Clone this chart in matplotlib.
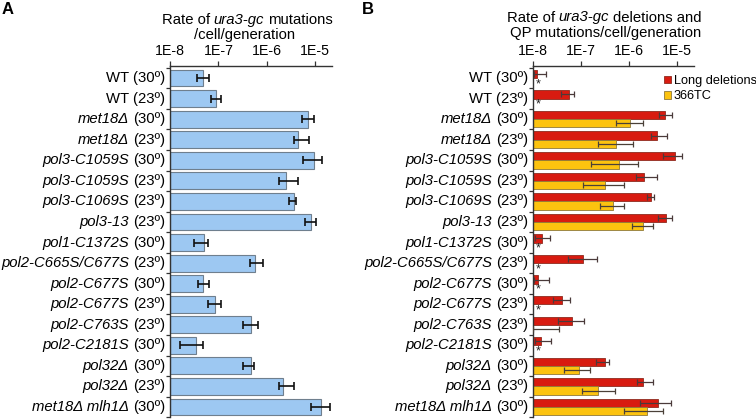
import numpy as np
import matplotlib
matplotlib.use("Agg")
import matplotlib.pyplot as plt
import matplotlib.ticker as mticker
from matplotlib.patches import Patch

plt.rcParams["font.family"] = ["Liberation Sans", "DejaVu Sans"]

# strain / temperature rows (top to bottom)
STRAINS = ["WT", "WT", "met18Δ", "met18Δ", "pol3-C1059S", "pol3-C1059S",
           "pol3-C1069S", "pol3-13", "pol1-C1372S", "pol2-C665S/C677S",
           "pol2-C677S", "pol2-C677S", "pol2-C763S", "pol2-C2181S",
           "pol32Δ", "pol32Δ", "met18Δ mlh1Δ"]
TEMPS = [30, 23, 30, 23, 30, 23, 23, 23, 30, 23, 30, 23, 23, 30, 30, 23, 30]

# panel A: total ura3-gc mutation rate
RATE_A = [4.9e-8, 9.0e-8, 7.0e-6, 4.5e-6, 9.3e-6, 2.5e-6, 3.6e-6, 8.3e-6, 5.1e-8,
          5.6e-7, 4.75e-8, 8.5e-8, 4.7e-7, 3.4e-8, 4.7e-7, 2.2e-6, 1.34e-5]
LOW_A = [3.6e-8, 7.1e-8, 5.3e-6, 3.6e-6, 5.6e-6, 1.8e-6, 2.95e-6, 6.2e-6, 3.2e-8,
         4.4e-7, 3.85e-8, 6.0e-8, 3.3e-7, 1.6e-8, 3.3e-7, 1.75e-6, 8.2e-6]
HIGH_A = [6.5e-8, 1.12e-7, 9.6e-6, 7.3e-6, 1.38e-5, 4.5e-6, 4.06e-6, 1.05e-5, 6.0e-8,
          8.5e-7, 6.5e-8, 1.14e-7, 6.5e-7, 4.75e-8, 5.56e-7, 3.7e-6, 2.06e-5]

# panel B: long deletions
RATE_DEL = [1.23e-8, 5.6e-8, 5.7e-6, 3.9e-6, 9.0e-6, 2.08e-6, 2.87e-6, 5.9e-6, 1.51e-8,
            1.10e-7, 1.29e-8, 4.1e-8, 6.6e-8, 1.47e-8, 3.2e-7, 1.92e-6, 4.1e-6]
LOW_DEL = [1.05e-8, 3.9e-8, 4.3e-6, 2.87e-6, 5.2e-6, 1.40e-6, 2.37e-6, 4.1e-6, 1.1e-8,
           5.4e-8, 1.05e-8, 2.63e-8, 3.3e-8, 1.1e-8, 2.08e-7, 1.44e-6, 1.72e-6]
HIGH_DEL = [1.83e-8, 7.1e-8, 7.8e-6, 6.3e-6, 1.29e-5, 3.8e-6, 3.25e-6, 7.7e-6, 2.25e-8,
            2.14e-7, 2.17e-8, 5.8e-8, 1.15e-7, 2.32e-8, 3.9e-7, 3.1e-6, 7.4e-6]

# panel B: 366TC quasipalindrome mutations (nan = none detected)
nan = np.nan
RATE_QP = [nan, nan, 1.07e-6, 5.4e-7, 6.3e-7, 3.2e-7, 4.6e-7, 2.0e-6, nan,
           nan, nan, nan, 1.0e-8, nan, 9.1e-8, 2.25e-7, 2.37e-6]
LOW_QP = [nan, nan, 5.4e-7, 2.25e-7, 1.64e-7, 1.10e-7, 2.5e-7, 1.16e-6, nan,
          nan, nan, nan, 1.0e-8, nan, 4.4e-8, 1.05e-7, 7.8e-7]
HIGH_QP = [nan, nan, 1.92e-6, 1.19e-6, 1.51e-6, 7.8e-7, 7.8e-7, 3.2e-6, nan,
           nan, nan, nan, 3.45e-8, nan, 1.57e-7, 4.99e-7, 5.0e-6]

TICK_VALUES = [1e-8, 1e-7, 1e-6, 1e-5]
TICK_LABELS = ["1E-8", "1E-7", "1E-6", "1E-5"]

XMIN, XMAX = 1e-8, 2.2e-5
BLUE, BLUE_EDGE = "#9DC8F2", "#6F7F8E"
RED, RED_EDGE = "#D81B10", "#8E2A1E"
YELLOW, YELLOW_EDGE = "#FCC30F", "#8F7A3A"
AXIS_COLOR = "#333333"
FS = 10.7


def style_axis(ax, n):
    ax.set_xscale("log")
    ax.set_xlim(XMIN, XMAX)
    ax.set_ylim(n - 0.5, -0.6)
    for side in ["right", "bottom"]:
        ax.spines[side].set_visible(False)
    for side in ["left", "top"]:
        ax.spines[side].set_color(AXIS_COLOR)
        ax.spines[side].set_linewidth(1.0)
    ax.xaxis.tick_top()
    ax.set_xticks(TICK_VALUES)
    ax.set_xticklabels(TICK_LABELS, fontsize=10.2)
    ax.xaxis.set_minor_locator(mticker.LogLocator(base=10, subs=np.arange(2, 10)))
    ax.xaxis.set_minor_formatter(mticker.NullFormatter())
    ax.tick_params(axis="x", which="major", length=3.5, width=0.9, pad=2, colors=AXIS_COLOR,
                   labelcolor="black")
    ax.tick_params(axis="x", which="minor", length=2.2, width=0.7, colors=AXIS_COLOR)
    ax.set_yticks([])
    ax.set_yticks(np.arange(n + 1) - 0.5, minor=True)
    ax.tick_params(axis="y", which="minor", length=3, width=0.9, colors=AXIS_COLOR)


def row_labels(ax):
    trans = ax.get_yaxis_transform()
    for i, (strain, temp) in enumerate(zip(STRAINS, TEMPS)):
        if strain == "WT":
            ax.annotate(f"WT ({temp}º)", xy=(0, i), xycoords=trans, xytext=(-3.6, 0),
                        textcoords="offset points", ha="right", va="center", fontsize=FS)
            continue
        roman = ax.annotate(f"({temp}º)", xy=(0, i), xycoords=trans, xytext=(-3.6, 0),
                            textcoords="offset points", ha="right", va="center", fontsize=FS)
        ax.annotate(strain, xy=(0, 0.5), xycoords=roman, xytext=(-3.0, 0),
                    textcoords="offset points", ha="right", va="center", fontsize=FS,
                    style="italic")


def chained_title(fig, x, y, parts):
    prev = fig.text(x, y, parts[0][0], ha="left", va="center", fontsize=FS, style=parts[0][1])
    for text, style in parts[1:]:
        prev = fig.add_artist(plt.Annotation(text, xy=(1, 0.5), xycoords=prev, xytext=(2.9, 0),
                                             textcoords="offset points", ha="left", va="center",
                                             fontsize=FS, style=style))


fig = plt.figure(figsize=(7.56, 4.2), dpi=100)
n = len(STRAINS)
y = np.arange(n)
W, H = 756.0, 420.0
ax_top = 1 - 65.7 / H
ax_bottom = 1 - 417.3 / H

# ---- panel A
axA = fig.add_axes([170 / W, ax_bottom, 161.7 / W, ax_top - ax_bottom])
style_axis(axA, n)
rate_a = np.array(RATE_A)
axA.barh(y, rate_a - XMIN, left=XMIN, height=0.82, color=BLUE, edgecolor=BLUE_EDGE,
         linewidth=0.8, zorder=2)
axA.errorbar(rate_a, y, xerr=[rate_a - np.array(LOW_A), np.array(HIGH_A) - rate_a],
             fmt="none", ecolor="#111111", elinewidth=1.2, capsize=2.6, capthick=1.2, zorder=3)
row_labels(axA)

# ---- panel B
axB = fig.add_axes([533 / W, ax_bottom, 160.5 / W, ax_top - ax_bottom])
style_axis(axB, n)
rate_d = np.array(RATE_DEL)
rate_q = np.array(RATE_QP)
axB.barh(y - 0.2, rate_d - XMIN, left=XMIN, height=0.4, color=RED, edgecolor=RED_EDGE,
         linewidth=0.6, zorder=2)
axB.barh(y + 0.2, rate_q - XMIN, left=XMIN, height=0.4, color=YELLOW, edgecolor=YELLOW_EDGE,
         linewidth=0.6, zorder=2)
axB.errorbar(rate_d, y - 0.2, xerr=[rate_d - np.array(LOW_DEL), np.array(HIGH_DEL) - rate_d],
             fmt="none", ecolor="#4A3A3A", elinewidth=0.9, capsize=2.4, capthick=0.9, zorder=3)
axB.errorbar(rate_q, y + 0.2, xerr=[rate_q - np.array(LOW_QP), np.array(HIGH_QP) - rate_q],
             fmt="none", ecolor="#4A4038", elinewidth=0.9, capsize=2.4, capthick=0.9, zorder=3)
for i in y[np.isnan(rate_q)]:
    axB.text(1.29e-8, i + 0.3, "*", ha="center", va="center", fontsize=9, color="#222222")
row_labels(axB)

fig.legend(handles=[Patch(facecolor=RED, edgecolor=RED_EDGE, linewidth=0.6, label="Long deletions"),
                    Patch(facecolor=YELLOW, edgecolor=YELLOW_EDGE, linewidth=0.6, label="366TC")],
           loc="upper left", bbox_to_anchor=(664 / W, 1 - 75 / H), frameon=False, fontsize=9.2,
           handlelength=0.55, handleheight=0.55, handletextpad=0.2, labelspacing=0.25,
           borderpad=0, borderaxespad=0)

# ---- titles
chained_title(fig, 161.7 / W, 1 - 20 / H, [("Rate of", "normal"), ("ura3-gc", "italic"),
                                            ("mutations", "normal")])
fig.text(245 / W, 1 - 34.5 / H, "/cell/generation", ha="center", va="center", fontsize=FS)
chained_title(fig, 506.7 / W, 1 - 17.5 / H, [("Rate of", "normal"), ("ura3-gc", "italic"),
                                             ("deletions and", "normal")])
fig.text(606 / W, 1 - 32.5 / H, "QP mutations/cell/generation", ha="center", va="center",
         fontsize=FS)

fig.text(1.5 / W, 1 - 10 / H, "A", ha="left", va="center", fontsize=12, fontweight="bold")
fig.text(361.5 / W, 1 - 10 / H, "B", ha="left", va="center", fontsize=12, fontweight="bold")

fig.savefig("out.png", dpi=100)
